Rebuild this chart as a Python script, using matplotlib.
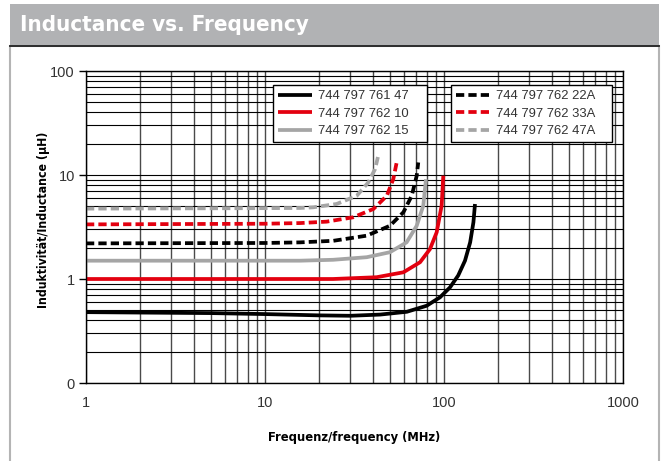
import matplotlib
matplotlib.use('Agg')
import matplotlib.pyplot as plt
from matplotlib.patches import Rectangle
from matplotlib.lines import Line2D
import matplotlib.ticker as mticker

# ---- data ----
labels = ["744 797 761 47", "744 797 762 10", "744 797 762 15",
          "744 797 762 22A", "744 797 762 33A", "744 797 762 47A"]

f_761_47 = [1, 5, 10, 20, 30, 44, 62, 80, 95, 108, 120, 131, 140, 146, 149]
L_761_47 = [0.48, 0.47, 0.46, 0.447, 0.443, 0.455, 0.484, 0.553, 0.667, 0.83, 1.08, 1.50, 2.25, 3.51, 5.26]

f_762_10 = [1, 10, 24, 42, 59.3, 73.5, 83.5, 91, 97, 99.1]
L_762_10 = [1.0, 1.0, 1.0, 1.04, 1.16, 1.45, 1.94, 2.81, 5.07, 9.85]

f_762_15 = [1, 10, 15.7, 24, 37, 49.9, 61.8, 70.4, 76.6, 79.3]
L_762_15 = [1.5, 1.5, 1.5, 1.53, 1.62, 1.81, 2.25, 3.25, 5.07, 9.1]

f_762_22A = [1, 10, 15.7, 24.1, 37, 49.9, 59.3, 66, 70.4, 71.8]
L_762_22A = [2.2, 2.22, 2.25, 2.33, 2.61, 3.25, 4.38, 6.3, 9.85, 13.2]

f_762_33A = [1, 10, 15.7, 22.1, 31.1, 40.3, 47.9, 52.1, 54.4]
L_762_33A = [3.35, 3.4, 3.45, 3.56, 3.92, 4.71, 6.3, 9.15, 13.2]

f_762_47A = [1, 10, 15.7, 18.6, 25.1, 32.5, 37.8, 41.2, 42.9]
L_762_47A = [4.75, 4.8, 4.82, 4.89, 5.26, 6.3, 8.5, 11.4, 15.3]

x_ticks = [1, 10, 100, 1000]
x_ticklabels = ["1", "10", "100", "1000"]
y_ticks = [0.1, 1, 10, 100]
y_ticklabels = ["0", "1", "10", "100"]

title = "Inductance vs. Frequency"
xlabel = "Frequenz/frequency (MHz)"
ylabel = "Induktivität/Inductance (µH)"

# ---- figure ----
W, H = 663, 461
fig = plt.figure(figsize=(W / 100, H / 100), dpi=100)
plt.rcParams['font.family'] = ['Liberation Sans', 'DejaVu Sans']

# outer panel frame and title band
fig.patches.append(Rectangle((10 / W, -0.1), 649 / W, 1.1 - 46 / H, transform=fig.transFigure,
                             facecolor='white', edgecolor='#b4b4b4', lw=1.5, zorder=-3))
fig.patches.append(Rectangle((10 / W, 1 - 46 / H), 649 / W, 42 / H, transform=fig.transFigure,
                             facecolor='#b1b2b4', edgecolor='none', zorder=-2))
fig.lines.append(Line2D([10 / W, 659 / W], [1 - 46.5 / H, 1 - 46.5 / H], transform=fig.transFigure,
                        color='#222222', lw=1.3, zorder=-1))
fig.text(20 / W, 1 - 25 / H, title, color='white', fontsize=16, fontweight='bold',
         family='DejaVu Sans', fontstretch='condensed', va='center', ha='left')

ax = fig.add_axes([86 / W, 1 - 383 / H, (623 - 86) / W, (383 - 71) / H])
ax.set_zorder(2)
ax.set_xscale('log')
ax.set_yscale('log')
ax.set_xlim(1, 1000)
ax.set_ylim(0.1, 100)

# grid
ax.xaxis.set_minor_locator(mticker.LogLocator(base=10, subs=range(2, 10)))
ax.yaxis.set_minor_locator(mticker.LogLocator(base=10, subs=range(2, 10)))
ax.grid(True, which='both', axis='x', color='#4a4a4a', lw=1.0)
ax.grid(True, which='both', axis='y', color='black', lw=0.8)
ax.set_axisbelow(True)

series = [
    (f_761_47, L_761_47, 'black', '-'),
    (f_762_10, L_762_10, '#e3000f', '-'),
    (f_762_15, L_762_15, '#a5a5a5', '-'),
    (f_762_22A, L_762_22A, 'black', (0, (2.2, 1.1))),
    (f_762_33A, L_762_33A, '#e3000f', (0, (2.2, 1.1))),
    (f_762_47A, L_762_47A, '#a5a5a5', (0, (2.2, 1.1))),
]
handles = []
for (f, L, c, ls), lab in zip(series, labels):
    h, = ax.plot(f, L, color=c, ls=ls, lw=2.7, label=lab, solid_capstyle='butt')
    handles.append(h)

ax.set_xticks(x_ticks)
ax.set_xticklabels(x_ticklabels)
ax.set_yticks(y_ticks)
ax.set_yticklabels(y_ticklabels)
ax.tick_params(axis='x', which='both', length=0, pad=9, labelsize=10.5, colors='#333333')
ax.tick_params(axis='y', which='major', length=5, width=1, pad=3, labelsize=10.5, colors='#333333')
ax.tick_params(axis='y', which='minor', length=0)
ax.tick_params(axis='both', which='both', color='black')
for s in ax.spines.values():
    s.set_color('black')
    s.set_linewidth(1.0)

fig.text(354.5 / W, 1 - 437 / H, xlabel, fontsize=9.3, fontweight='bold', family='DejaVu Sans',
         fontstretch='condensed', ha='center', va='center', color='black')
fig.text(43 / W, 1 - 220 / H, ylabel, fontsize=8.8, fontweight='bold', family='DejaVu Sans',
         fontstretch='condensed', ha='center', va='center', rotation=90, color='black')

leg_kw = dict(frameon=True, fancybox=False, edgecolor='black', framealpha=1, fontsize=9.4,
              handlelength=2.55, handletextpad=0.5, labelspacing=0.4, borderpad=0.4,
              borderaxespad=0, mode='expand')
box_top = 1 - 85 / H
leg1 = ax.legend(handles[:3], labels[:3], loc='upper left',
                 bbox_to_anchor=(273 / W, box_top - 0.01, (427 - 273) / W, 0.01),
                 bbox_transform=fig.transFigure, **leg_kw)
for t in leg1.get_texts():
    t.set_color('#333333')
leg1.get_frame().set_linewidth(1.0)
ax.add_artist(leg1)
leg2 = ax.legend(handles[3:], labels[3:], loc='upper left',
                 bbox_to_anchor=(451 / W, box_top - 0.01, (612 - 451) / W, 0.01),
                 bbox_transform=fig.transFigure, **leg_kw)
for t in leg2.get_texts():
    t.set_color('#333333')
leg2.get_frame().set_linewidth(1.0)

fig.savefig('out.png', dpi=100)
